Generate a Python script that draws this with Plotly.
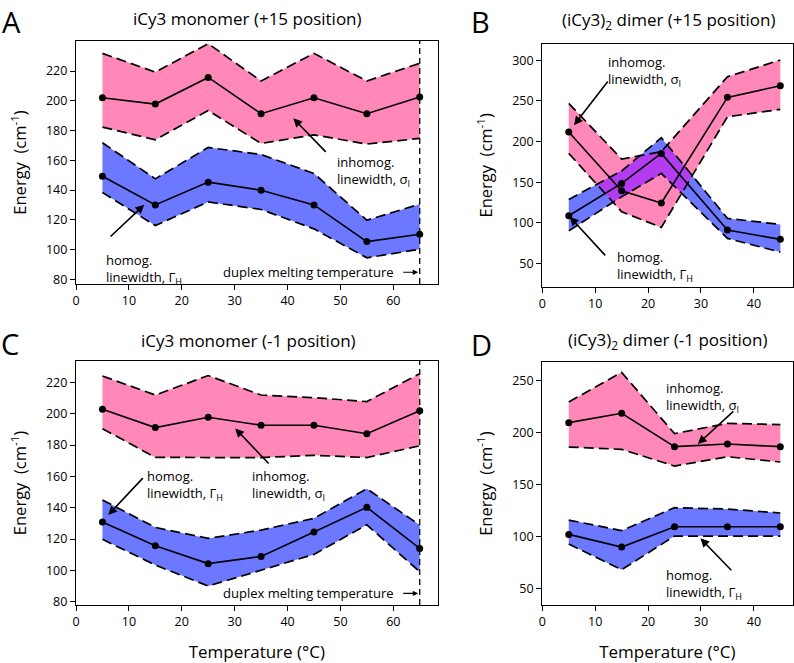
import numpy as np
import plotly.graph_objects as go

# ---------------- data ----------------
# Panel A: iCy3 monomer (+15 position)
A_T = [5, 15, 25, 35, 45, 55, 65]
A_sig = [202, 197.8, 215.7, 191.3, 202, 191.3, 202.5]
A_sig_hi = [231.9, 219.3, 238.4, 213.3, 231.9, 213.3, 225.2]
A_sig_lo = [182.3, 173.8, 193.5, 171.3, 177.1, 170.9, 174.7]
A_gam = [149.3, 130, 145.3, 139.9, 130, 105.3, 110.2]
A_gam_hi = [171.8, 147.5, 168.6, 163.9, 151.1, 119.7, 130.5]
A_gam_lo = [138.3, 116.1, 132, 126.9, 113.9, 94.4, 100.2]

# Panel B: (iCy3)2 dimer (+15 position)
B_T = [5, 15, 22.5, 35, 45]
B_sig = [211.7, 139.4, 124.3, 254.4, 268.7]
B_sig_hi = [247, 178.4, 187.5, 279.8, 300.4]
B_sig_lo = [185.5, 113.6, 94.3, 230.5, 239.6]
B_gam = [108.7, 148.5, 185.4, 91, 79.6]
B_gam_hi = [128.8, 163.8, 204.7, 105.4, 98]
B_gam_lo = [90, 132, 160.8, 80.8, 63.9]

# Panel C: iCy3 monomer (-1 position)
C_T = [5, 15, 25, 35, 45, 55, 65]
C_sig = [202.8, 191.1, 197.7, 192.6, 192.6, 187.2, 201.9]
C_sig_hi = [224, 211.9, 224.3, 211.9, 210.2, 207.7, 225.5]
C_sig_lo = [190.4, 172.1, 172, 172, 173.4, 172, 179.5]
C_gam = [130.9, 115.7, 104.3, 108.9, 124.5, 140.2, 114]
C_gam_hi = [144.9, 127.4, 120.4, 125.7, 133.2, 152.1, 128.9]
C_gam_lo = [119.8, 103.4, 90, 100.2, 110.2, 129.1, 99.1]

# Panel D: (iCy3)2 dimer (-1 position)
D_T = [5, 15, 25, 35, 45]
D_sig = [209.9, 218.9, 186.8, 189.3, 186.8]
D_sig_hi = [229.8, 258.3, 199.3, 209.2, 208]
D_sig_lo = [186.4, 184.2, 168.1, 177.1, 172]
D_gam = [102.3, 90.1, 109.7, 109.7, 109.7]
D_gam_hi = [116.1, 105.9, 128, 126.7, 122.9]
D_gam_lo = [93, 68.3, 100.7, 100.7, 100.7]

TITLES = ["iCy3 monomer (+15 position)", "(iCy3)<sub>2</sub> dimer (+15 position)",
          "iCy3 monomer (-1 position)", "(iCy3)<sub>2</sub> dimer (-1 position)"]
LETTERS = ["A", "B", "C", "D"]
MELT_T = 65

PINK = "#ff88b8"
BLUE = "#6b78ff"
PURPLE = "#b43cf0"
FONT = "Open Sans"

panels = [
    (A_T, A_sig, A_sig_hi, A_sig_lo, A_gam, A_gam_hi, A_gam_lo),
    (B_T, B_sig, B_sig_hi, B_sig_lo, B_gam, B_gam_hi, B_gam_lo),
    (C_T, C_sig, C_sig_hi, C_sig_lo, C_gam, C_gam_hi, C_gam_lo),
    (D_T, D_sig, D_sig_hi, D_sig_lo, D_gam, D_gam_hi, D_gam_lo),
]

W, H = 794, 663
def px(x): return x / W
def py(y): return 1 - y / H

doms = [
    ([px(76), px(437.7)], [py(284), py(41)]),
    ([px(542.3), px(792.5)], [py(286.7), py(44)]),
    ([px(76), px(437.7)], [py(605), py(361)]),
    ([px(542.3), px(792.5)], [py(605), py(362.3)]),
]
xranges = [[0, 68.4], [0, 47.3], [0, 68.4], [0, 47.3]]
yranges = [[76.8, 240.2], [21.3, 320.1], [77.9, 233.6], [34.3, 268]]
xticks = [list(range(0, 70, 10)), list(range(0, 50, 10)), list(range(0, 70, 10)), list(range(0, 50, 10))]
yticks = [list(range(80, 240, 20)), list(range(50, 350, 50)), list(range(80, 240, 20)), list(range(50, 300, 50))]

fig = go.Figure()
annotations = []
shapes = []

for i, (T, s, sh, sl, g, gh, gl) in enumerate(panels):
    xa = "x" if i == 0 else f"x{i+1}"
    ya = "y" if i == 0 else f"y{i+1}"
    kw = dict(xaxis=xa, yaxis=ya, showlegend=False, hoverinfo="skip")
    # filled bands
    for lo, hi, col in [(gl, gh, BLUE), (sl, sh, PINK)]:
        fig.add_trace(go.Scatter(x=T, y=lo, mode="lines", line=dict(width=0), **kw))
        fig.add_trace(go.Scatter(x=T, y=hi, mode="lines", line=dict(width=0),
                                 fill="tonexty", fillcolor=col, **kw))
    # overlap region (intersection of both bands)
    xf = np.linspace(T[0], T[-1], 1601)
    lo = np.maximum(np.interp(xf, T, gl), np.interp(xf, T, sl))
    hi = np.minimum(np.interp(xf, T, gh), np.interp(xf, T, sh))
    if np.any(hi > lo):
        hi = np.maximum(hi, lo)
        fig.add_trace(go.Scatter(x=xf, y=lo, mode="lines", line=dict(width=0), **kw))
        fig.add_trace(go.Scatter(x=xf, y=hi, mode="lines", line=dict(width=0),
                                 fill="tonexty", fillcolor=PURPLE, **kw))
    # dashed boundaries
    for b in (gh, gl, sh, sl):
        fig.add_trace(go.Scatter(x=T, y=b, mode="lines",
                                 line=dict(color="black", width=1.7, dash="10px,5px"), **kw))
    # centre lines
    for c in (g, s):
        fig.add_trace(go.Scatter(x=T, y=c, mode="lines+markers",
                                 line=dict(color="black", width=1.6),
                                 marker=dict(color="black", size=7), **kw))

axis_common = dict(showgrid=False, zeroline=False, showline=True, linecolor="black",
                   linewidth=1.3, mirror=True, ticks="outside", ticklen=5, tickwidth=1.2,
                   tickcolor="black", automargin=False,
                   tickfont=dict(family=FONT, size=12.5, color="black"))
layout_axes = {}
for i in range(4):
    xn = "xaxis" if i == 0 else f"xaxis{i+1}"
    yn = "yaxis" if i == 0 else f"yaxis{i+1}"
    anchor_y = "y" if i == 0 else f"y{i+1}"
    anchor_x = "x" if i == 0 else f"x{i+1}"
    xd = dict(axis_common, domain=doms[i][0], range=xranges[i], tickvals=xticks[i],
              anchor=anchor_y)
    if i >= 2:
        xd["title"] = dict(text="Temperature (°C)", font=dict(family=FONT, size=17, color="black"),
                           standoff=18)
    yd = dict(axis_common, domain=doms[i][1], range=yranges[i], tickvals=yticks[i],
              anchor=anchor_x,
              title=dict(text="Energy  (cm<sup>-1</sup>)", font=dict(family=FONT, size=16.5, color="black"),
                         standoff=15))
    layout_axes[xn] = xd
    layout_axes[yn] = yd

# Titles and letters
title_pos = [(247, 18), (668, 20), (248, 341), (668, 341)]
letter_pos = [(11, 0), (480, 0), (10, 322), (481, 323)]
for i in range(4):
    tx, ty = title_pos[i]
    annotations.append(dict(text=TITLES[i], x=px(tx), y=py(ty), xref="paper", yref="paper",
                            xanchor="center", yanchor="middle", showarrow=False,
                            font=dict(family=FONT, size=17, color="black")))
    lx, ly = letter_pos[i]
    annotations.append(dict(text=LETTERS[i], x=px(lx), y=py(ly), xref="paper", yref="paper",
                            xanchor="center", yanchor="top", showarrow=False,
                            font=dict(family=FONT, size=29, color="black")))

SIG = "inhomog.<br>linewidth, σ<sub>I</sub>"
GAM = "homog.<br>linewidth, Γ<sub>H</sub>"
tfont = dict(family=FONT, size=13, color="black")

def label(i, text, x, y):
    xa = "x" if i == 0 else f"x{i+1}"
    ya = "y" if i == 0 else f"y{i+1}"
    annotations.append(dict(text=text, x=x, y=y, xref=xa, yref=ya, xanchor="left",
                            yanchor="top", align="left", showarrow=False, font=tfont))

def arrow(i, x0, y0, x1, y1):
    xa = "x" if i == 0 else f"x{i+1}"
    ya = "y" if i == 0 else f"y{i+1}"
    annotations.append(dict(text="", x=x1, y=y1, ax=x0, ay=y0, xref=xa, yref=ya,
                            axref=xa, ayref=ya, showarrow=True, arrowhead=2,
                            arrowsize=1.1, arrowwidth=1.6, arrowcolor="black", standoff=0))

# Panel A
label(0, SIG, 48.9, 166.5)
arrow(0, 47.5, 164.6, 41.1, 188.2)
label(0, GAM, 5.3, 100.5)
arrow(0, 6.25, 107.8, 12.9, 130.1)
# Panel B
label(1, SIG, 12.0, 311)
arrow(1, 12.6, 275.7, 6.0, 220.2)
label(1, GAM, 13.8, 71)
arrow(1, 12.15, 58, 5.2, 107.4)
# Panel C
label(2, GAM, 13.1, 167.5)
arrow(2, 12.9, 159.8, 6.1, 135.4)
label(2, SIG, 32.9, 167.5)
arrow(2, 36.7, 167.2, 30.1, 190.6)
# Panel D
label(3, SIG, 23.0, 253.5)
arrow(3, 36.4, 222, 29.4, 189.3)
label(3, GAM, 23.0, 74)
arrow(3, 36.0, 66.3, 29.9, 98.5)

# duplex melting temperature markers in A and C
for i, ymelt in [(0, 84.7), (2, 85.3)]:
    xa = "x" if i == 0 else f"x{i+1}"
    ya = "y" if i == 0 else f"y{i+1}"
    shapes.append(dict(type="line", xref=xa, yref=f"{ya} domain", x0=MELT_T, x1=MELT_T,
                       y0=0, y1=1, line=dict(color="black", width=1.3, dash="6px,4px")))
    annotations.append(dict(text="duplex melting temperature", x=60.6, y=ymelt, xref=xa, yref=ya,
                            xanchor="right", yanchor="middle", showarrow=False, font=tfont))
    annotations.append(dict(text="", x=MELT_T - 0.3, y=ymelt, ax=61.6, ay=ymelt, xref=xa, yref=ya,
                            axref=xa, ayref=ya, showarrow=True, arrowhead=2, arrowsize=0.9,
                            arrowwidth=1.2, arrowcolor="black", standoff=0))

fig.update_layout(width=W, height=H, margin=dict(l=0, r=0, t=0, b=0),
                  paper_bgcolor="white", plot_bgcolor="white",
                  annotations=annotations, shapes=shapes,
                  font=dict(family=FONT, color="black"), **layout_axes)

fig.write_html("out.html", config={"displayModeBar": False},
               post_script="document.body.style.margin='0';document.body.style.overflow='hidden';")
